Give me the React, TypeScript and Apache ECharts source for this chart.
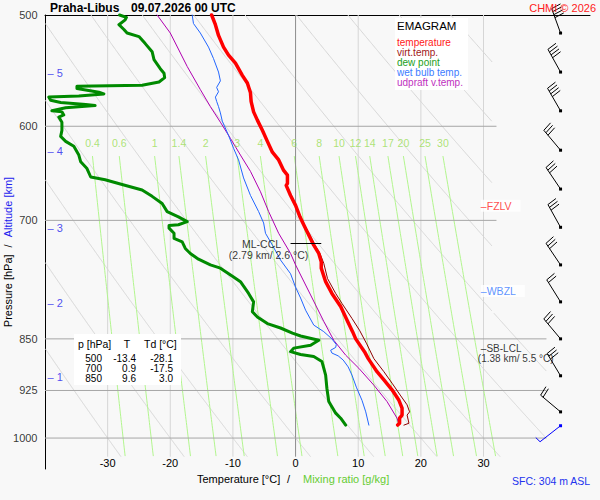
import React, { useEffect, useRef } from "react";
import * as echarts from "echarts";

// ---------- axes ----------
const T_MIN = -40;
const T_MAX = 47;
const P_TOP = 500;
const P_BOTTOM = 1052;
const P_LINES_BOTTOM = 1031;
const pressureLevels = [500, 600, 700, 850, 925, 1000];
const upperIsobars = [600, 700];
const lowerIsobars = [850, 925, 1000];
const temperatureTicks = [-30, -20, -10, 0, 10, 20, 30];
const isotherms = [-30, -20, -10, 10, 20, 30];
const dryAdiabats = [-30, -20, -10, 0, 10, 20, 30, 40, 50, 60, 70, 80, 90];
const mixingRatios = [0.4, 0.6, 1, 1.4, 2, 3, 4, 6, 8, 10, 12, 14, 17, 20, 25, 30];
const MIX_TOP_P = 630;
const altitudeKm = [1, 2, 3, 4, 5];
const altitudeP = [904.6, 801.4, 708.8, 624.8, 549.6];

// ---------- profiles [p hPa, value °C] ----------
const temperature = [
  [500, -13.4], [508, -12.8], [517, -12.3], [527, -11.5], [534, -10.7], [541, -9.6], [552, -8.5],
  [559, -7.7], [568, -7.2], [576, -7.1], [586, -6.7], [594, -6.1], [604, -5.3], [615, -4.5],
  [626, -3.7], [634, -2.7], [645, -1.9], [650, -1.3], [659, -1.3], [661, -1.5], [672, -0.8],
  [683, 0.0], [696, 0.7], [705, 1.3], [717, 2.1], [729, 2.9], [739, 3.7], [749, 4.1], [757, 4.1],
  [774, 4.8], [789, 5.8], [806, 7.2], [824, 8.2], [840, 9.1], [850, 9.6], [868, 11.0], [878, 11.6],
  [897, 13.0], [909, 14.1], [924, 15.4], [940, 16.5], [952, 17.0], [963, 17.0], [968, 16.6],
  [976, 16.6], [979, 16.3],
];
const virtualTemp = [
  [500, -13.3], [508, -12.7], [517, -12.2], [527, -11.4], [534, -10.6], [541, -9.5], [552, -8.4],
  [559, -7.6], [568, -7.1], [576, -7.0], [586, -6.6], [594, -6.0], [604, -5.2], [615, -4.4],
  [626, -3.6], [634, -2.6], [645, -1.8], [650, -1.2], [659, -1.2], [661, -1.4], [672, -0.7],
  [683, 0.1], [696, 0.8], [705, 1.4], [717, 2.3], [729, 3.1], [739, 3.9], [751, 4.5], [770, 5.1],
  [789, 6.4], [802, 7.4], [822, 9.0], [838, 10.2], [856, 11.3], [878, 12.5], [897, 14.1],
  [914, 15.4], [932, 16.7], [947, 17.8], [958, 18.2], [963, 17.8], [976, 18.1], [979, 17.3],
];
const dewPoint = [
  [500, -28.1], [502, -27.0], [504, -27.2], [508, -28.2], [512, -27.4], [515, -26.9], [518, -25.0],
  [524, -24.0], [531, -22.9], [538, -22.6], [546, -21.6], [550, -21.0], [554, -20.9], [558, -21.8],
  [561, -24.5], [562, -34.9], [564, -34.9], [567.5, -31.4], [569, -30.6], [571, -34.6], [572, -39.4],
  [575, -39.1], [577, -37.5], [579, -33.5], [580, -32.0], [582, -36.7], [585, -38.9], [586, -37.3],
  [589, -37.0], [591, -37.8], [596, -37.3], [604, -37.3], [610, -37.5], [615, -36.7], [620, -35.4],
  [629, -34.6], [636, -34.3], [643, -33.3], [652, -32.7], [655, -30.4], [660, -27.7], [666, -24.5],
  [673, -22.9], [681, -21.3], [690, -20.5], [696, -18.7], [701.5, -17.3], [705, -18.7], [706, -20.2],
  [709, -20.2], [715, -19.4], [721, -19.4], [725, -18.1], [733, -17.6], [739, -16.8], [746, -15.5],
  [753, -13.6], [757, -12.0], [768, -9.9], [774, -8.8], [789, -7.5], [800, -6.7], [813, -6.9],
  [820, -6.1], [829, -4.5], [835, -2.4], [842, -0.5], [846, 0.8], [852, 3.7], [859, 2.4],
  [863, -0.3], [868, -0.8], [872, 0.8], [875, 2.9], [882, 4.2], [902, 4.8], [922, 5.0], [942, 5.3],
  [960, 6.4], [968, 7.2], [979, 8.0],
];
const wetBulb = [
  [500, -16.5], [507, -16.3], [515, -15.2], [527, -13.9], [537, -13.1], [549, -12.3], [557, -12.0],
  [563, -12.6], [567, -12.3], [572, -12.8], [576, -12.6], [581, -12.3], [587, -12.0], [595, -11.7],
  [609, -10.7], [622, -9.9], [634, -9.1], [653, -8.3], [672, -7.2], [690, -5.9], [703, -5.1],
  [715, -4.8], [729, -3.7], [747, -2.4], [764, -0.8], [781, 0.0], [795, 0.8], [811, 1.6],
  [831, 2.9], [840, 4.5], [850, 5.8], [858, 6.5], [862, 6.4], [866, 5.6], [870, 5.8], [874, 6.8],
  [880, 7.6], [890, 8.4], [902, 9.0], [920, 9.7], [940, 10.6], [958, 11.2], [979, 11.7],
];
const updraft = [
  [500, -22.1], [515, -20.0], [544, -17.3], [565, -15.2], [581, -13.6], [596, -12.0], [612, -10.4],
  [629, -8.8], [646, -7.2], [668, -5.6], [690, -4.3], [715, -2.7], [739, -0.8], [753, 0.0],
  [791, 2.4], [826, 4.5], [852, 6.1], [873, 8.0], [892, 10.1], [917, 12.5], [942, 14.6],
  [968, 16.2], [978, 16.5],
];

// ---------- wind ----------
const windP = [515, 549, 585, 624, 665, 708, 753, 800, 850, 903, 958, 980];
const windDir = [340, 331, 330, 320, 326, 331, 326, 328, 320, 329, 310, 232];
const windKt = [40, 40, 40, 30, 30, 30, 30, 20, 30, 30, 20, 5];
const BARB_T = 42.3;

// ---------- table ----------
const tableP = [500, 700, 850];
const tableT = [-13.4, 0.9, 9.6];
const tableTd = [-28.1, -17.5, 3.0];

// ---------- levels ----------
const levelNames = ["FZLV", "WBZL"];
const levelP = [683.3, 785.9];
const levelColors = ["#ff2020", "#3377ff"];
const LABEL_T = 29.5;
const cclP = 726.5;
const cclKm = 2.79;
const cclTemp = 2.6;
const cclSpan = [-0.8, 4.1];
const lclP = 864;
const lclKm = 1.38;
const lclTemp = 5.5;

const FONT = "'Liberation Sans', Arial, sans-serif";
const lnp = (p: number) => Math.log(p);
const dryT = (thC: number, p: number) => (thC + 273.15) * Math.pow(p / 1000, 0.2857) - 273.15;
const mixT = (w: number, p: number) => {
  const e = (w * p) / (622 + w);
  const l = Math.log(e / 6.112);
  return (243.5 * l) / (17.67 - l);
};
const UPPER_CLIP_T = 31.4;
const LOWER_CLIP_T = 40.05;
const CLIP_SWITCH_P = 815;

function adiabatSegments() {
  const segs: number[][][] = [];
  for (const th of dryAdiabats) {
    let cur: number[][] = [];
    for (let p = P_TOP; p <= P_LINES_BOTTOM; p += 1) {
      const t = dryT(th, p);
      const tmax = p < CLIP_SWITCH_P ? UPPER_CLIP_T : LOWER_CLIP_T;
      if (t >= T_MIN && t <= tmax) cur.push([t, lnp(p)]);
      else {
        if (cur.length > 1) segs.push(cur);
        cur = [];
      }
    }
    if (cur.length > 1) segs.push(cur);
  }
  return segs;
}

function mixingSegments() {
  return mixingRatios.map((w) => {
    const c: number[][] = [];
    for (let p = MIX_TOP_P; p <= P_LINES_BOTTOM; p += 5) c.push([mixT(w, p), lnp(p)]);
    return c;
  });
}

const toXY = (prof: number[][]) => prof.map(([p, t]) => [t, lnp(p)]);

function profileSeries(name: string, data: number[][], color: string, width: number) {
  return {
    type: "line",
    name,
    data: toXY(data),
    showSymbol: false,
    symbol: "none",
    silent: true,
    clip: false,
    lineStyle: { color, width, join: "round", cap: "round" },
    z: 5,
  };
}

function buildOption(): any {
  const bgLines = (data: number[][][], color: string) => ({
    type: "lines",
    coordinateSystem: "cartesian2d",
    polyline: true,
    silent: true,
    data: data.map((c) => ({ coords: c })),
    lineStyle: { color, width: 1, opacity: 1 },
    z: 1,
  });

  const isoData = isotherms.map((t) => [[t, lnp(P_TOP)], [t, lnp(P_LINES_BOTTOM)]]);
  const zeroData = [[[0, lnp(P_TOP)], [0, lnp(P_LINES_BOTTOM)]]];
  const isobarData = [
    ...upperIsobars.map((p) => [[T_MIN, lnp(p)], [32.07, lnp(p)]]),
    ...lowerIsobars.map((p) => [[T_MIN, lnp(p)], [LOWER_CLIP_T, lnp(p)]]),
  ];

  const labelSeries = (data: any[]) => ({
    type: "scatter",
    silent: true,
    clip: false,
    symbolSize: 1,
    itemStyle: { color: "rgba(0,0,0,0)" },
    data,
    z: 8,
  });

  const pressureLabels = pressureLevels.map((p) => ({
    value: [T_MIN, lnp(p)],
    label: { show: true, position: "left", distance: 7, formatter: String(p), fontSize: 11, color: "#000", fontFamily: FONT },
  }));
  const altLabels = altitudeKm.map((k, i) => ({
    value: [T_MIN, lnp(altitudeP[i])],
    label: { show: true, position: "right", distance: 2, formatter: "\u2013 " + k, fontSize: 11, color: "#2222ee", fontFamily: FONT },
  }));
  const mixLabels = mixingRatios.map((w) => ({
    value: [mixT(w, MIX_TOP_P), lnp(MIX_TOP_P)],
    label: { show: true, position: "top", distance: 7, formatter: String(w), fontSize: 10.5, color: "#99dd55", fontFamily: FONT },
  }));
  const levelLabels = levelNames.map((n, i) => ({
    value: [LABEL_T, lnp(levelP[i])],
    label: {
      show: true, position: "right", distance: 0, formatter: "\u2013" + n, fontSize: 10.5,
      color: levelColors[i], fontFamily: FONT, backgroundColor: "#fff", padding: [1, 9, 0, 0],
    },
  }));
  const annot = [
    {
      value: [cclSpan[0], lnp(cclP)],
      label: { show: true, position: "left", distance: 9, offset: [0, 1], formatter: "ML-CCL", fontSize: 10.5, color: "#000", fontFamily: FONT },
    },
    {
      value: [cclSpan[0], lnp(cclP)],
      label: { show: true, position: "inside", offset: [-22, 12], formatter: `(${cclKm} km/ ${cclTemp.toFixed(1)} \u00b0C)`, fontSize: 10.5, color: "#000", fontFamily: FONT },
    },
    {
      value: [LABEL_T, lnp(lclP)],
      label: {
        show: true,
        position: "right",
        distance: 0,
        offset: [-3, 5],
        align: "left",
        formatter: `{a|\u2013SB-LCL}\n{b|(${lclKm} km/ ${lclTemp.toFixed(1)} \u00b0C)}`,
        rich: {
          a: { fontSize: 10, lineHeight: 10, color: "#000", fontFamily: FONT, padding: [0, 0, 0, 3] },
          b: { fontSize: 10, lineHeight: 10, color: "#000", fontFamily: FONT },
        },
      },
    },
  ];

  const barbData = windP.map((p, i) => [BARB_T, lnp(p), windDir[i], windKt[i], i === windP.length - 1 ? 1 : 0]);

  const txt = (x: number, y: number, text: string, fill: string, size: number, extra: any = {}) => ({
    type: "text",
    x,
    y,
    z: 101,
    silent: true,
    style: {
      text, fill, font: `${extra.bold ? "bold " : ""}${size}px ${FONT}`, align: extra.align || "left",
      verticalAlign: "middle", lineHeight: extra.lineHeight,
    },
  });

  const legendItems = [
    ["temperature", "#ff2020"],
    ["virt.temp.", "#a01818"],
    ["dew point", "#22a022"],
    ["wet bulb temp.", "#3b7bff"],
    ["udpraft v.temp.", "#c030c0"],
  ];
  const TB = { lineHeight: 10 };

  const graphic: any[] = [
    txt(50, 7.5, "Praha-Libus", "#000", 12, { bold: true }),
    txt(131, 7.5, "09.07.2026 00 UTC", "#000", 12, { bold: true }),
    txt(596, 7.5, "CHMI \u00a9 2026", "#ff2020", 11, { align: "right" }),
    { type: "rect", z: 100, silent: true, shape: { x: 395, y: 18, width: 73, height: 72 }, style: { fill: "#fff" } },
    txt(397, 26, "EMAGRAM", "#000", 11.5),
    ...legendItems.map(([t, c], i) => txt(397, 42 + i * 10, t, c, 10, TB)),
    { type: "rect", z: 100, silent: true, shape: { x: 74, y: 334, width: 107, height: 51 }, style: { fill: "#fff" } },
    txt(78, 344, "p [hPa]", "#000", 10.5),
    txt(127, 344, "T", "#000", 10.5, { align: "center" }),
    txt(144, 344, "Td [\u00b0C]", "#000", 10.5),
    ...tableP.map((p, i) => txt(102, 358.3 + i * 10, String(p), "#000", 10, { align: "right", lineHeight: 10 })),
    ...tableT.map((t, i) => txt(136, 358.3 + i * 10, t.toFixed(1), "#000", 10, { align: "right", lineHeight: 10 })),
    ...tableTd.map((t, i) => txt(173, 358.3 + i * 10, t.toFixed(1), "#000", 10, { align: "right", lineHeight: 10 })),
    txt(197, 479, "Temperature [\u00b0C]", "#000", 11),
    txt(287, 479, "/", "#000", 11),
    txt(303, 479, "Mixing ratio [g/kg]", "#66cc33", 11),
    txt(512, 481, "SFC: 304 m ASL", "#2233ee", 10.5),
    {
      type: "text",
      x: 8,
      y: 252,
      rotation: Math.PI / 2,
      z: 101,
      silent: true,
      style: {
        text: "{a|Pressure [hPa]}{s|/}{b|Altitude [km]}",
        align: "center",
        verticalAlign: "middle",
        font: `11px ${FONT}`,
        rich: {
          a: { fill: "#000", fontSize: 11, fontFamily: FONT },
          s: { fill: "#000", fontSize: 11, fontFamily: FONT, padding: [0, 7, 0, 7] },
          b: { fill: "#2222ee", fontSize: 11, fontFamily: FONT },
        },
      },
    },
  ];

  return {
    animation: false,
    backgroundColor: "#f8f8f8",
    textStyle: { fontFamily: FONT },
    grid: { left: 45, top: 15, right: 10, bottom: 31, containLabel: false },
    xAxis: [
      {
        type: "value",
        min: T_MIN,
        max: T_MAX,
        interval: 10,
        position: "bottom",
        axisLine: { show: false },
        axisTick: { show: false },
        splitLine: { show: false },
        axisLabel: {
          inside: true,
          margin: 1,
          fontSize: 11,
          color: "#000",
          fontFamily: FONT,
          formatter: (v: number) => (temperatureTicks.includes(v) ? String(v) : ""),
        },
      },
      {
        type: "value",
        min: T_MIN,
        max: T_MAX,
        position: "top",
        axisLine: { show: true, onZero: false, lineStyle: { color: "#000", width: 1 } },
        axisTick: { show: false },
        axisLabel: { show: false },
        splitLine: { show: false },
      },
    ],
    yAxis: {
      type: "value",
      min: lnp(P_TOP),
      max: lnp(P_BOTTOM),
      inverse: true,
      axisLine: { show: true, onZero: false, lineStyle: { color: "#000", width: 1 } },
      axisTick: { show: false },
      axisLabel: { show: false },
      splitLine: { show: false },
    },
    graphic,
    series: [
      bgLines(isoData, "#d6d6d6"),
      bgLines(adiabatSegments(), "#d6d6d6"),
      bgLines(mixingSegments(), "#b2f58e"),
      bgLines(zeroData, "#8c8c8c"),
      bgLines(isobarData, "#a6a6a6"),
      profileSeries("updraft", updraft, "#b000b0", 1),
      profileSeries("wetbulb", wetBulb, "#2266ff", 1),
      profileSeries("dewpoint", dewPoint, "#008a00", 3),
      profileSeries("virt", virtualTemp, "#900000", 1),
      profileSeries("temp", temperature, "#ff0000", 3.5),
      {
        type: "lines",
        coordinateSystem: "cartesian2d",
        silent: true,
        data: [{ coords: [[cclSpan[0], lnp(cclP)], [cclSpan[1], lnp(cclP)]] }],
        lineStyle: { color: "#000", width: 1, opacity: 1 },
        z: 6,
      },
      labelSeries(pressureLabels),
      labelSeries(altLabels),
      labelSeries(mixLabels),
      labelSeries(levelLabels),
      labelSeries(annot),
      {
        type: "custom",
        silent: true,
        clip: false,
        z: 9,
        data: barbData,
        renderItem: (params: any, api: any) => {
          const pt = api.coord([api.value(0), api.value(1)]);
          const dir = (api.value(2) * Math.PI) / 180;
          const spd = api.value(3);
          const sfc = api.value(4) === 1;
          const color = sfc ? "#0000ff" : "#000";
          const ux = Math.sin(dir);
          const uy = -Math.cos(dir);
          const L = 26;
          const tip = [pt[0] + ux * L, pt[1] + uy * L];
          const a = (8 * Math.PI) / 180;
          const fx = -uy * Math.cos(a) + ux * Math.sin(a);
          const fy = ux * Math.cos(a) + uy * Math.sin(a);
          const children: any[] = [
            { type: "line", shape: { x1: pt[0], y1: pt[1], x2: tip[0], y2: tip[1] }, style: { stroke: color, lineWidth: 1 } },
            { type: "rect", shape: { x: pt[0] - 1.5, y: pt[1] - 1.5, width: 3, height: 3 }, style: { fill: color } },
          ];
          let s = spd;
          let k = 0;
          while (s >= 10) {
            const bx = tip[0] - ux * k * 3.2;
            const by = tip[1] - uy * k * 3.2;
            children.push({ type: "line", shape: { x1: bx, y1: by, x2: bx + fx * 10, y2: by + fy * 10 }, style: { stroke: color, lineWidth: 1 } });
            s -= 10;
            k++;
          }
          if (s >= 5) {
            const bx = tip[0] - ux * k * 3.2;
            const by = tip[1] - uy * k * 3.2;
            children.push({ type: "line", shape: { x1: bx, y1: by, x2: bx + fx * 6, y2: by + fy * 6 }, style: { stroke: color, lineWidth: 1 } });
          }
          return { type: "group", children };
        },
      },
    ],
  };
}

export default function App() {
  const ref = useRef<HTMLDivElement>(null);
  useEffect(() => {
    document.body.style.margin = "0";
    const chart = echarts.init(ref.current as HTMLDivElement, undefined, { renderer: "svg" });
    chart.setOption(buildOption());
    return () => chart.dispose();
  }, []);
  return <div ref={ref} style={{ width: 600, height: 500, position: "absolute", left: 0, top: 0 }} />;
}
